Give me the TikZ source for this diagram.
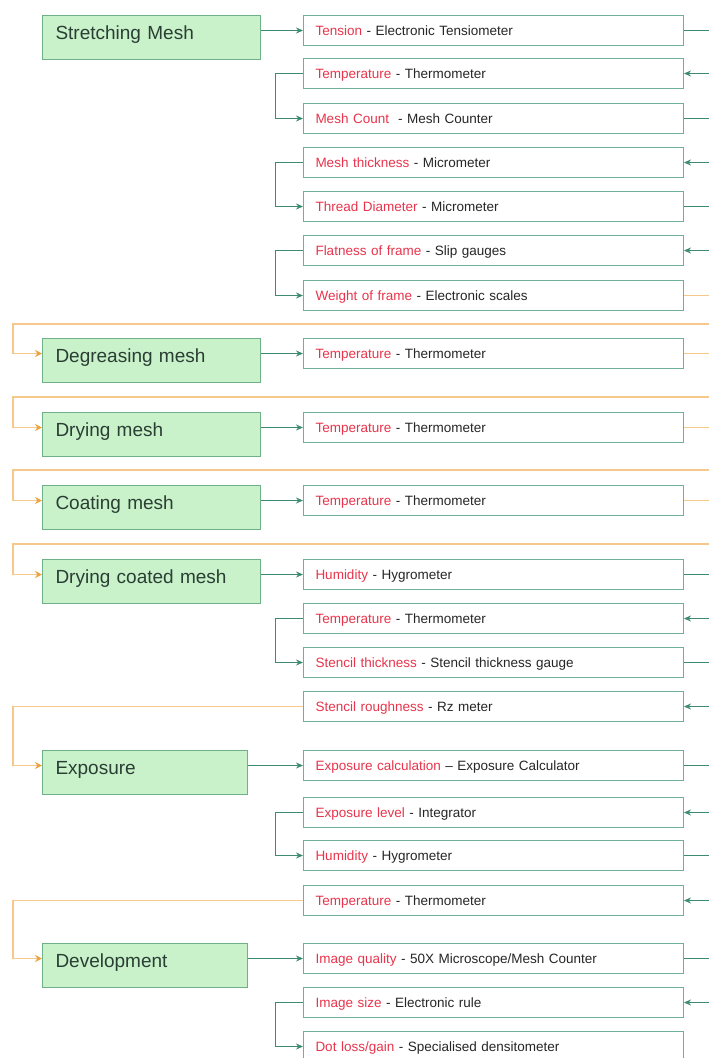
\documentclass[tikz,border=0pt]{standalone}
\usepackage{fontspec}
\setmainfont{Liberation Sans}
\usetikzlibrary{arrows.meta}
\definecolor{stagefill}{HTML}{C9F2CB}
\definecolor{stageline}{HTML}{6FB08A}
\definecolor{stagetext}{HTML}{2A3E33}
\definecolor{measline}{HTML}{72AE9E}
\definecolor{lblred}{HTML}{E8344C}
\definecolor{linkgreen}{HTML}{3E8C70}
\definecolor{feedorange}{HTML}{F6C88C}
\definecolor{feedtip}{HTML}{EFA23C}
\newcommand{\meas}[2]{\textcolor{lblred}{#1} - #2}
\begin{document}
\begin{tikzpicture}[x=1pt,y=-1pt,
  stage/.style={draw=stageline,fill=stagefill,line width=1pt,anchor=north west,
    inner xsep=13pt,inner ysep=10pt,text width=#1,align=left,
    text height=14pt,text depth=10pt,text=stagetext,font=\fontsize{19}{22}\selectfont},
  stage/.default=192pt,
  mbox/.style={draw=measline,fill=white,line width=1pt,anchor=north west,
    inner xsep=12pt,text width=356pt,minimum height=30pt,align=left,
    text height=10pt,text depth=0pt,text=black!85,font=\fontsize{13.5}{16}\selectfont},
  link/.style={draw=linkgreen,line width=0.8pt,-{Stealth[length=7pt,width=6pt]}},
  stub/.style={draw=linkgreen,line width=0.8pt},
  feed/.style={draw=feedorange,line width=1.6pt},
  feedin/.style={feed,-{Stealth[length=7pt,width=7pt,color=feedtip]}}]
\clip (0,0) rectangle (709,1058);
\coordinate (edge) at (712,0);
\coordinate (rail) at (13,0);
\coordinate (loopa) at (712,324);
\coordinate (loopb) at (712,397);
\coordinate (loopc) at (712,470);
\coordinate (loopd) at (712,544);

\node[stage] (stretch) at (42,15) {Stretching Mesh};
\node[stage] (degrease) at (42,338) {Degreasing mesh};
\node[stage] (drymesh) at (42,412) {Drying mesh};
\node[stage] (coat) at (42,485) {Coating mesh};
\node[stage] (drycoat) at (42,559) {Drying coated mesh};
\node[stage=179pt] (expo) at (42,750) {Exposure};
\node[stage=179pt] (devel) at (42,943) {Development};

\node[mbox] (tension) at (303,15) {\meas{Tension}{Electronic Tensiometer}};
\node[mbox] (tempa) at (303,58) {\meas{Temperature}{Thermometer}};
\node[mbox] (meshcount) at (303,103) {\meas{Mesh Count\ }{Mesh Counter}};
\node[mbox] (meshthick) at (303,147) {\meas{Mesh thickness}{Micrometer}};
\node[mbox] (thread) at (303,191) {\meas{Thread Diameter}{Micrometer}};
\node[mbox] (flat) at (303,235) {\meas{Flatness of frame}{Slip gauges}};
\node[mbox] (weight) at (303,280) {\meas{Weight of frame}{Electronic scales}};
\node[mbox] (tempb) at (303,338) {\meas{Temperature}{Thermometer}};
\node[mbox] (tempc) at (303,412) {\meas{Temperature}{Thermometer}};
\node[mbox] (tempd) at (303,485) {\meas{Temperature}{Thermometer}};
\node[mbox] (huma) at (303,559) {\meas{Humidity}{Hygrometer}};
\node[mbox] (tempe) at (303,603) {\meas{Temperature}{Thermometer}};
\node[mbox] (stthick) at (303,647) {\meas{Stencil thickness}{Stencil thickness gauge}};
\node[mbox] (strough) at (303,691) {\meas{Stencil roughness}{Rz meter}};
\node[mbox] (expcalc) at (303,750) {\textcolor{lblred}{Exposure calculation} -- Exposure Calculator};
\node[mbox] (explevel) at (303,797) {\meas{Exposure level}{Integrator}};
\node[mbox] (humb) at (303,840) {\meas{Humidity}{Hygrometer}};
\node[mbox] (tempf) at (303,885) {\meas{Temperature}{Thermometer}};
\node[mbox] (imgq) at (303,943) {\meas{Image quality}{50X Microscope/Mesh Counter}};
\node[mbox] (imgsize) at (303,987) {\meas{Image size}{Electronic rule}};
\node[mbox] (dot) at (303,1031) {\meas{Dot loss/gain}{Specialised densitometer}};

\draw[link] (stretch.east |- tension.west) -- (tension.west);
\draw[link] (degrease.east |- tempb.west) -- (tempb.west);
\draw[link] (drymesh.east |- tempc.west) -- (tempc.west);
\draw[link] (coat.east |- tempd.west) -- (tempd.west);
\draw[link] (drycoat.east |- huma.west) -- (huma.west);
\draw[link] (expo.east |- expcalc.west) -- (expcalc.west);
\draw[link] (devel.east |- imgq.west) -- (imgq.west);

\foreach \a/\b in {tempa/meshcount,meshthick/thread,flat/weight,tempe/stthick,explevel/humb,imgsize/dot}
  \draw[link] (\a.west) -- ++(-28,0) |- (\b.west);

\foreach \a in {tension,meshcount,thread,huma,stthick,expcalc,humb,imgq}
  \draw[stub] (\a.east) -- (\a.east -| edge);
\foreach \a in {tempa,meshthick,flat,tempe,strough,explevel,tempf,imgsize}
  \draw[link] (\a.east -| edge) -- (\a.east);
\foreach \a in {weight,tempb,tempc,tempd}
  \draw[feed] (\a.east) -- (\a.east -| edge);

\draw[feedin] (loopa) -| (rail |- tempb.west) -- (degrease.west |- tempb.west);
\draw[feedin] (loopb) -| (rail |- tempc.west) -- (drymesh.west |- tempc.west);
\draw[feedin] (loopc) -| (rail |- tempd.west) -- (coat.west |- tempd.west);
\draw[feedin] (loopd) -| (rail |- huma.west) -- (drycoat.west |- huma.west);
\draw[feedin] (strough.west) -| (rail |- expcalc.west) -- (expo.west |- expcalc.west);
\draw[feedin] (tempf.west) -| (rail |- imgq.west) -- (devel.west |- imgq.west);
\end{tikzpicture}
\end{document}
